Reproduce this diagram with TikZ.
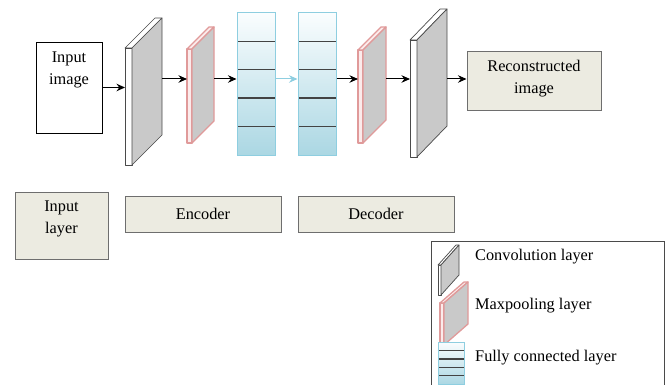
\documentclass[tikz,border=0pt]{standalone}
\usepackage{fontspec}
\setmainfont{Liberation Serif}
\usepackage{tikz}
\usetikzlibrary{arrows.meta,calc}

\definecolor{sidegray}{HTML}{C9C9C9}
\definecolor{convedge}{HTML}{4A4A4A}
\definecolor{pooledge}{HTML}{E09A9A}
\definecolor{poolpink}{HTML}{FBEBEB}
\definecolor{fcedge}{HTML}{8ECEE0}
\definecolor{fctop}{HTML}{FAFDFE}
\definecolor{fcbot}{HTML}{ABD7E3}
\definecolor{beige}{HTML}{ECEBE1}
\definecolor{boxedge}{HTML}{6E6E6E}

\tikzset{
  convfront/.style={draw=convedge,fill=white,line width=0.7pt,line join=round},
  convside/.style={convfront,fill=sidegray},
  poolfront/.style={draw=pooledge,fill=poolpink,line width=1.3pt,line join=round},
  poolside/.style={poolfront,fill=sidegray},
  slabbox/.style={rectangle,inner sep=0pt,outer sep=0pt},
  plainbox/.style={draw=black,fill=white,line width=0.7pt,inner sep=0pt},
  tagbox/.style={draw=boxedge,fill=beige,line width=1pt,inner sep=0pt},
  txt/.style={align=center,inner sep=0pt},
  divline/.style={draw=convedge!90!black,line width=1.4pt},
  fcblock/.style={draw=fcedge,line width=1pt,top color=fctop,bottom color=fcbot,inner sep=0pt,
    path picture={\foreach \k in {1,...,4}
      \draw[divline] ($(path picture bounding box.north west)!\k/5!(path picture bounding box.south west)$)
        -- ($(path picture bounding box.north east)!\k/5!(path picture bounding box.south east)$);}},
  arr/.style={-{Stealth[length=8.5pt,width=7.5pt]},line width=1pt,black},
  bluearr/.style={arr,fcedge},
  frame/.style={draw=convedge,line width=0.9pt}
}

% name, kind, x0, ytop, ybot, thickness, dx, dy
\newcommand{\slab}[8]{%
  \path[#2front] (#3,#4) rectangle ({#3+#6},#5);
  \path[#2front] (#3,#4) -- ({#3+#7},{#4-#8}) -- ({#3+#6+#7},{#4-#8}) -- ({#3+#6},#4) -- cycle;
  \path[#2side] ({#3+#6},#4) -- ({#3+#6+#7},{#4-#8}) -- ({#3+#6+#7},{#5-#8}) -- ({#3+#6},#5) -- cycle;
  \node[slabbox,minimum width={(#6+#7)*1pt},minimum height={(#5-#4+#8)*1pt}] (#1)
    at ({#3+(#6+#7)/2},{(#4+#5-#8)/2}) {};
}

\begin{document}
\begin{tikzpicture}[x=1pt,y=-1pt,font=\fontsize{16.3}{22}\selectfont]
    \useasboundingbox (0,0) rectangle (669,385);
    \coordinate (row) at (0,79);

    % network
    \node[plainbox,minimum width=66pt,minimum height=91pt] (n0) at (69,87.5) {};
    \node[txt] (t0) at (69,70) {Input\\image};
    \slab{c1}{conv}{125}{48}{165}{7}{30}{30}
    \slab{p1}{pool}{187}{49}{143}{5}{22}{22}
    \node[fcblock,minimum width=38pt,minimum height=142pt] (f1) at (256,84) {};
    \node[fcblock,minimum width=38pt,minimum height=142pt] (f2) at (317,84) {};
    \slab{p2}{pool}{358}{50}{143}{5}{23}{23}
    \slab{c2}{conv}{410}{40}{157}{7}{30}{31}
    \node[tagbox,minimum width=134pt,minimum height=59pt] (r0) at (534,81.5) {};
    \node[txt] (t1) at (534,79) {Reconstructed\\image};

    \draw[arr] (n0.east) -- (n0.east -| c1.west);
    \draw[arr] (c1.east |- row) -- (p1.west |- row);
    \draw[arr] (p1.east |- row) -- (f1.west |- row);
    \draw[bluearr] (f1.east |- row) -- (f2.west |- row);
    \draw[arr] (f2.east |- row) -- (p2.west |- row);
    \draw[arr] (p2.east |- row) -- (c2.west |- row);
    \draw[arr] (c2.east |- row) -- (r0.west |- row);

    % stages
    \node[tagbox,minimum width=93pt,minimum height=67pt] (s0) at (61.5,225.5) {};
    \node[txt] (t2) at (61.5,219) {Input\\layer};
    \node[tagbox,minimum width=156pt,minimum height=36pt] (s1) at (203,214) {Encoder};
    \node[tagbox,minimum width=156pt,minimum height=36pt] (s2) at (376,214) {Decoder};

    % legend
    \draw[frame] (431,385) |- (664,241) -- (664,385);
    \slab{l1}{conv}{438}{265}{295}{3}{18}{20}
    \slab{l2}{pool}{440}{303}{345}{4}{24}{21}
    \node[fcblock,minimum width=26pt,minimum height=42pt] (l3) at (451,363) {};
    \node[txt,anchor=west] (t3) at (475,257) {Convolution layer};
    \node[txt,anchor=west] (t4) at (475,306) {Maxpooling layer};
    \node[txt,anchor=west] (t5) at (475,358) {Fully connected layer};
\end{tikzpicture}
\end{document}
